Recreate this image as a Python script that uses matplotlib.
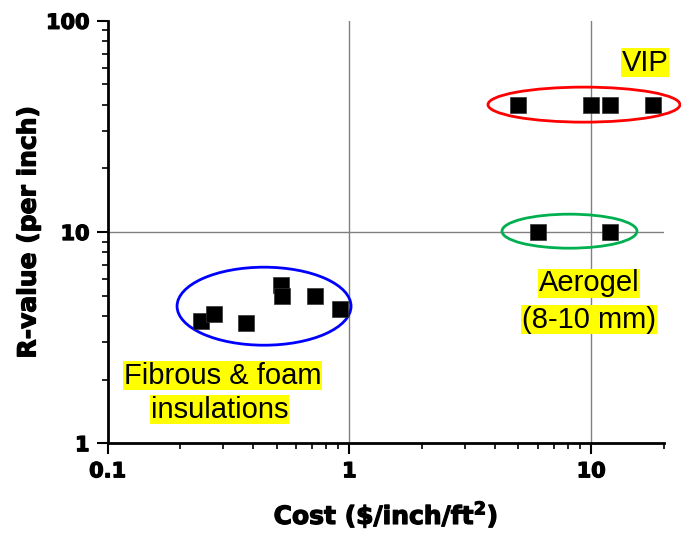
import matplotlib.pyplot as plt
import matplotlib.patheffects as pe
from matplotlib.patches import Ellipse
from matplotlib.ticker import NullFormatter

# data
vip_cost = [5, 10, 12, 18]
vip_r = [40, 40, 40, 40]
aerogel_cost = [6, 12]
aerogel_r = [10, 10]
fibrous_cost = [0.244, 0.275, 0.375, 0.519, 0.527, 0.719, 0.912]
fibrous_r = [3.8, 4.1, 3.7, 5.6, 5.0, 5.0, 4.3]

x_ticks = [0.1, 1, 10]
x_tick_labels = ['0.1', '1', '10']
y_ticks = [1, 10, 100]
y_tick_labels = ['1', '10', '100']

heavy = [pe.withStroke(linewidth=0.9, foreground='black')]

fig = plt.figure(figsize=(6.81, 5.34), dpi=100)
ax = fig.add_axes([0.158, 0.170, 0.817, 0.791])
ax.set_xscale('log')
ax.set_yscale('log')
ax.set_xlim(0.1, 20)
ax.set_ylim(1, 100)

# grid only at inner decades
for x in x_ticks[1:]:
    ax.axvline(x, color='#808080', lw=1, zorder=0)
for y in y_ticks[1:-1]:
    ax.axhline(y, color='#808080', lw=1, zorder=0)

ax.spines['top'].set_visible(False)
ax.spines['right'].set_visible(False)
ax.spines['left'].set_linewidth(2)
ax.spines['bottom'].set_linewidth(2)

ax.set_xticks(x_ticks, x_tick_labels, fontsize=15, fontweight='bold')
ax.set_yticks(y_ticks, y_tick_labels, fontsize=15, fontweight='bold')
ax.xaxis.set_minor_formatter(NullFormatter())
ax.yaxis.set_minor_formatter(NullFormatter())
ax.tick_params(which='major', direction='out', length=8, width=1.5, pad=5)
ax.tick_params(which='minor', direction='out', length=4, width=1.2)
for lbl in ax.get_xticklabels() + ax.get_yticklabels():
    lbl.set_path_effects(heavy)

xl = ax.set_xlabel(r'Cost (\$/inch/ft$^{\mathbf{2}}$)', fontsize=18, fontweight='bold', labelpad=13)
yl = ax.set_ylabel('R-value (per inch)', fontsize=18, fontweight='bold', labelpad=4)
xl.set_path_effects(heavy)
yl.set_path_effects(heavy)

for xs, ys in [(vip_cost, vip_r), (aerogel_cost, aerogel_r), (fibrous_cost, fibrous_r)]:
    ax.plot(xs, ys, 's', color='black', ms=11, mec='#333333', mew=0.5, zorder=3)

# group ellipses (axes fraction)
ellipses = [((0.2812, 0.3244), 0.3127, 0.1847, '#0000ff'),
            ((0.8562, 0.8016), 0.345, 0.0829, '#ff0000'),
            ((0.8302, 0.502), 0.2426, 0.0805, '#00b050')]
for c, w, h, col in ellipses:
    ax.add_patch(Ellipse(c, w, h, transform=ax.transAxes, fill=False,
                         ec=col, lw=2, clip_on=False, zorder=2))

def label(x, y, s):
    ax.text(x, y, s, transform=ax.transAxes, ha='center', va='center',
            fontsize=21, family='Liberation Sans', zorder=4,
            bbox=dict(boxstyle='square,pad=0.02', fc='yellow', ec='none'))

label(0.2067, 0.1598, 'Fibrous & foam')
label(0.2013, 0.0793, 'insulations')
label(0.8652, 0.3789, 'Aerogel')
label(0.8652, 0.2924, '(8-10 mm)')
label(0.9659, 0.901, 'VIP')

fig.savefig('out.png', dpi=100)
